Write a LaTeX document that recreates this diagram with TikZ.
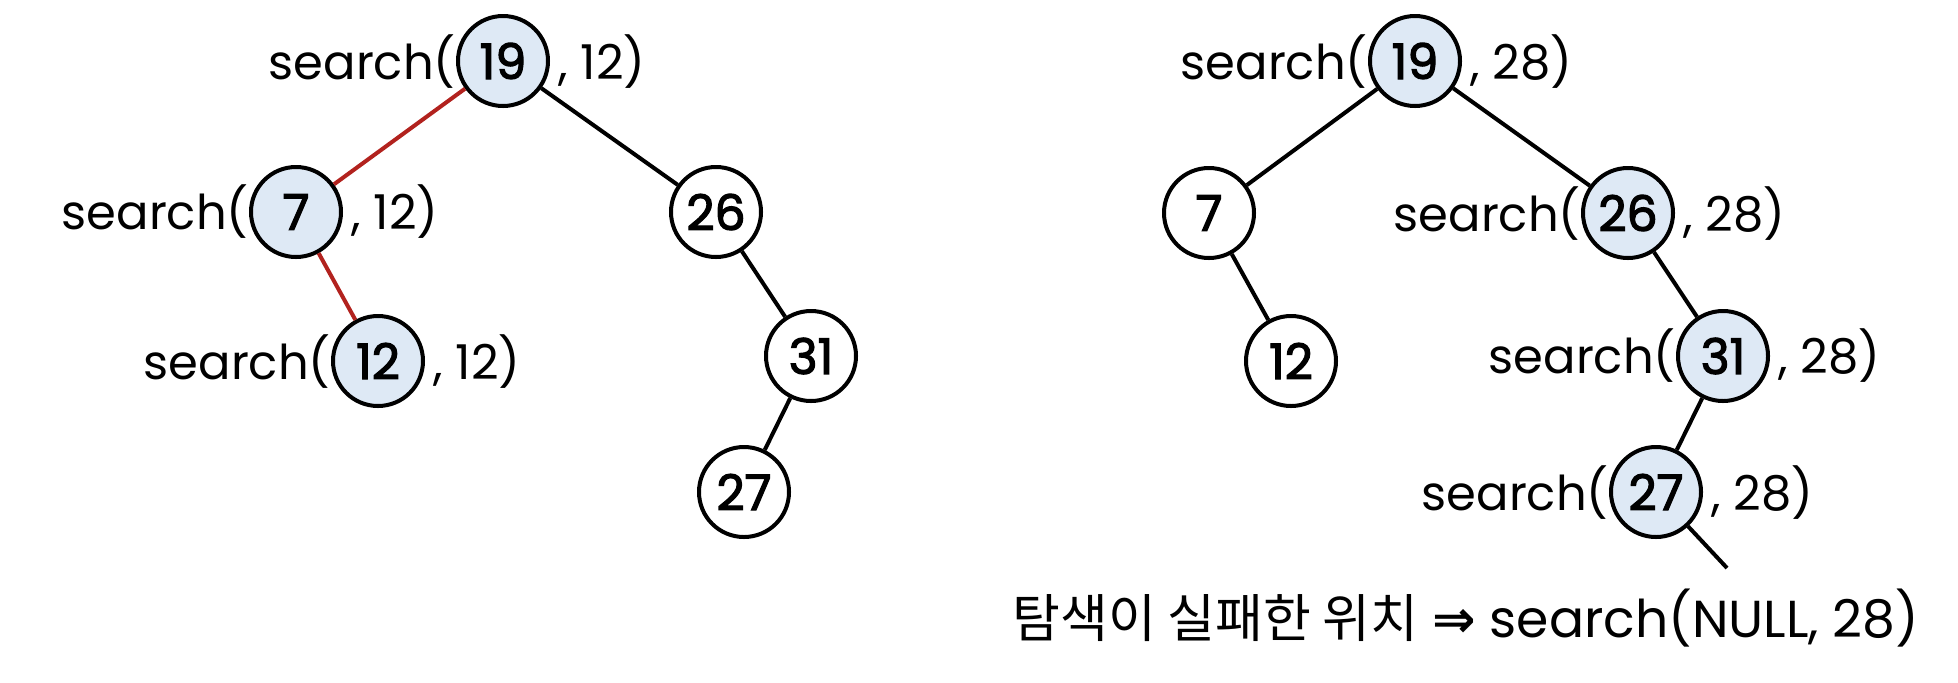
\documentclass[tikz,border=0pt]{standalone}
\usepackage{fontspec}
\setmainfont{Poppins}
\newfontfamily\numfont{Poppins}[FakeBold=2.5]
\newfontfamily\kofont{Noto Sans CJK KR}
\newfontfamily\symfont{DejaVu Sans}
\definecolor{hl}{RGB}{222,233,245}
\definecolor{redc}{RGB}{178,34,30}
\begin{document}
\begin{tikzpicture}[x=0.5pt,y=-0.5pt,
  tn/.style={circle,draw,line width=2pt,minimum size=45pt,inner sep=0pt,fill=white,font=\numfont\fontsize{24.5}{28}\selectfont},
  hn/.style={tn,fill=hl},
  edge/.style={line width=2pt},
  redge/.style={edge,draw=redc},
  lbl/.style={inner sep=0pt,font=\fontsize{24}{28}\selectfont},
  lblr/.style={lbl,inner xsep=0pt,xshift=4pt}]
\useasboundingbox (0,0) rectangle (1958,682);
% left tree
\node[hn] (a19) at (503,61) {19};
\node[hn] (a7) at (296,212) {7};
\node[hn] (a12) at (378,361) {12};
\node[tn] (a26) at (716,212) {26};
\node[tn] (a31) at (811,356) {31};
\node[tn] (a27) at (744,492) {27};
\draw[redge] (a19) -- (a7);
\draw[redge] (a7) -- (a12);
\draw[edge] (a19) -- (a26);
\draw[edge] (a26) -- (a31);
\draw[edge] (a31) -- (a27);
\node[lbl,anchor=base east] (a19l) at (a19.base -| a19.west) {search(};
\node[lblr,anchor=base west] (a19r) at (a19.base -| a19.east) {, 12)};
\node[lbl,anchor=base east] (a7l) at (a7.base -| a7.west) {search(};
\node[lblr,anchor=base west] (a7r) at (a7.base -| a7.east) {, 12)};
\node[lbl,anchor=base east] (a12l) at (a12.base -| a12.west) {search(};
\node[lblr,anchor=base west] (a12r) at (a12.base -| a12.east) {, 12)};
% right tree
\node[hn] (b19) at (1415,61) {19};
\node[tn] (b7) at (1209,213) {7};
\node[tn] (b12) at (1291,361) {12};
\node[hn] (b26) at (1628,213) {26};
\node[hn] (b31) at (1723,356) {31};
\node[hn] (b27) at (1656,492) {27};
\coordinate (bnull) at (1727,568);
\draw[edge] (b19) -- (b7);
\draw[edge] (b7) -- (b12);
\draw[edge] (b19) -- (b26);
\draw[edge] (b26) -- (b31);
\draw[edge] (b31) -- (b27);
\draw[edge] (b27) -- (bnull);
\node[lbl,anchor=base east] (b19l) at (b19.base -| b19.west) {search(};
\node[lblr,anchor=base west] (b19r) at (b19.base -| b19.east) {, 28)};
\node[lbl,anchor=base east] (b26l) at (b26.base -| b26.west) {search(};
\node[lblr,anchor=base west] (b26r) at (b26.base -| b26.east) {, 28)};
\node[lbl,anchor=base east] (b31l) at (b31.base -| b31.west) {search(};
\node[lblr,anchor=base west] (b31r) at (b31.base -| b31.east) {, 28)};
\node[lbl,anchor=base east] (b27l) at (b27.base -| b27.west) {search(};
\node[lblr,anchor=base west] (b27r) at (b27.base -| b27.east) {, 28)};
\node[lbl,anchor=base west,font=\fontsize{26}{30}\selectfont] (fail) at (1012,637) {{\kofont 탐색이 실패한 위치} {\symfont\bfseries ⇒} search(NULL, 28)};
\end{tikzpicture}
\end{document}
